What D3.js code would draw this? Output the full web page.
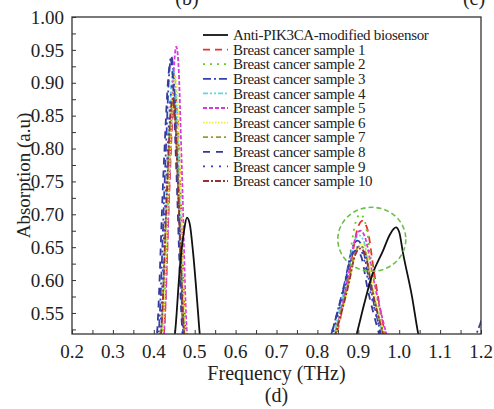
<!DOCTYPE html>
<html>
<head>
<meta charset="utf-8">
<script src="https://cdn.jsdelivr.net/npm/d3@7"></script>
<style>
  body { margin: 0; background: #fff; }
</style>
</head>
<body>
<svg id="chart"></svg>
<script>
// series names (legend order)
const seriesNames = [
  'Anti-PIK3CA-modified biosensor',
  'Breast cancer sample 1', 'Breast cancer sample 2', 'Breast cancer sample 3',
  'Breast cancer sample 4', 'Breast cancer sample 5', 'Breast cancer sample 6',
  'Breast cancer sample 7', 'Breast cancer sample 8', 'Breast cancer sample 9',
  'Breast cancer sample 10'
];

// [frequency THz, absorption]
const biosensor = [[0.44,0.48],[0.452,0.52],[0.464,0.621],[0.474,0.675],[0.481,0.695],[0.488,0.685],[0.496,0.642],[0.508,0.552],[0.512,0.52],[0.52,0.48],
  [0.88,0.48],[0.897,0.52],[0.915,0.565],[0.933,0.606],[0.96,0.644],[0.978,0.670],[0.992,0.68],[1.0,0.673],[1.009,0.642],[1.031,0.576],[1.046,0.52],[1.06,0.48]];
const sample1 = [[0.415,0.48],[0.425,0.52],[0.438,0.736],[0.447,0.86],[0.452,0.88],[0.457,0.86],[0.465,0.736],[0.478,0.52],[0.488,0.48],
  [0.828,0.48],[0.848,0.52],[0.879,0.614],[0.898,0.678],[0.910,0.69],[0.922,0.678],[0.938,0.614],[0.965,0.52],[0.985,0.48]];
const sample2 = [[0.412,0.48],[0.422,0.52],[0.436,0.736],[0.445,0.86],[0.450,0.88],[0.455,0.86],[0.463,0.736],[0.476,0.52],[0.486,0.48],
  [0.825,0.48],[0.845,0.52],[0.875,0.619],[0.893,0.687],[0.905,0.70],[0.917,0.687],[0.934,0.619],[0.962,0.52],[0.982,0.48]];
const sample3 = [[0.402,0.48],[0.412,0.52],[0.428,0.772],[0.438,0.917],[0.443,0.94],[0.448,0.917],[0.458,0.772],[0.472,0.52],[0.482,0.48],
  [0.815,0.48],[0.835,0.52],[0.867,0.597],[0.886,0.65],[0.898,0.66],[0.910,0.65],[0.927,0.597],[0.955,0.52],[0.975,0.48],
  [1.17,0.48],[1.19,0.52],[1.2,0.537],[1.21,0.56]];
const sample4 = [[0.408,0.48],[0.418,0.52],[0.433,0.76],[0.443,0.898],[0.448,0.92],[0.453,0.898],[0.462,0.76],[0.475,0.52],[0.485,0.48],
  [0.820,0.48],[0.840,0.52],[0.871,0.601],[0.890,0.658],[0.902,0.668],[0.914,0.658],[0.930,0.601],[0.958,0.52],[0.978,0.48]];
const sample5 = [[0.415,0.48],[0.425,0.52],[0.440,0.781],[0.450,0.931],[0.455,0.955],[0.460,0.931],[0.468,0.781],[0.481,0.52],[0.491,0.48],
  [0.825,0.48],[0.845,0.52],[0.875,0.605],[0.893,0.664],[0.905,0.675],[0.917,0.664],[0.936,0.605],[0.968,0.52],[0.988,0.48]];
const sample6 = [[0.412,0.48],[0.422,0.52],[0.437,0.754],[0.447,0.889],[0.452,0.91],[0.457,0.889],[0.465,0.754],[0.478,0.52],[0.488,0.48],
  [0.826,0.48],[0.846,0.52],[0.877,0.594],[0.896,0.646],[0.908,0.655],[0.920,0.646],[0.935,0.594],[0.962,0.52],[0.982,0.48]];
const sample7 = [[0.408,0.48],[0.418,0.52],[0.432,0.73],[0.442,0.851],[0.447,0.87],[0.452,0.851],[0.460,0.73],[0.474,0.52],[0.484,0.48],
  [0.823,0.48],[0.843,0.52],[0.874,0.593],[0.893,0.643],[0.905,0.652],[0.917,0.643],[0.932,0.593],[0.960,0.52],[0.980,0.48]];
const sample8 = [[0.398,0.48],[0.408,0.52],[0.424,0.769],[0.436,0.912],[0.441,0.935],[0.446,0.912],[0.455,0.769],[0.470,0.52],[0.480,0.48],
  [0.815,0.48],[0.835,0.52],[0.865,0.589],[0.883,0.636],[0.895,0.645],[0.907,0.636],[0.922,0.589],[0.950,0.52],[0.970,0.48]];
const sample9 = [[0.405,0.48],[0.415,0.52],[0.430,0.748],[0.441,0.879],[0.446,0.90],[0.451,0.879],[0.459,0.748],[0.473,0.52],[0.483,0.48],
  [0.818,0.48],[0.838,0.52],[0.868,0.592],[0.886,0.641],[0.898,0.65],[0.910,0.641],[0.926,0.592],[0.955,0.52],[0.975,0.48]];
const sample10 = [[0.408,0.48],[0.418,0.52],[0.432,0.733],[0.441,0.855],[0.446,0.875],[0.451,0.855],[0.460,0.733],[0.474,0.52],[0.484,0.48],
  [0.825,0.48],[0.845,0.52],[0.875,0.590],[0.893,0.639],[0.905,0.648],[0.917,0.639],[0.932,0.590],[0.960,0.52],[0.980,0.48]];

const seriesValues = [biosensor, sample1, sample2, sample3, sample4, sample5,
  sample6, sample7, sample8, sample9, sample10];

const xTickLabels = [0.2, 0.3, 0.4, 0.5, 0.6, 0.7, 0.8, 0.9, 1.0, 1.1, 1.2];
const yTickLabels = [0.55, 0.60, 0.65, 0.70, 0.75, 0.80, 0.85, 0.90, 0.95, 1.00];

// highlighted region (dashed circle) centre
const highlight = [0.933, 0.662];

const colors = ['#111111', '#e8322e', '#66cc22', '#3a3fae', '#5fd8e0', '#d83ad8',
  '#eeee3a', '#9c9a2e', '#343a9a', '#3c3cc8', '#963232'];
const dashes = ['none', '7,5', '2,5', '8,3,2,3', '5,2,2,2,2,2', '4,2',
  '1.5,1.5', '5,3,2,3', '7,6', '2,6', '6,2,2,2'];

const serif = "'Liberation Serif', 'DejaVu Serif', Tinos, 'Noto Serif', 'Nimbus Roman', FreeSerif, Times, serif";

const margin = {top: 17, right: 13, bottom: 75, left: 72};
const W = 494, H = 409;
const width = W - margin.left - margin.right;
const height = H - margin.top - margin.bottom;

const svg = d3.select('#chart').attr('width', W).attr('height', H)
  .style('display', 'block')
  .style('font-family', serif);
const g = svg.append('g').attr('transform', `translate(${margin.left},${margin.top})`);

const x = d3.scaleLinear().domain([0.2, 1.2]).range([0, width]);
const y = d3.scaleLinear().domain([0.518, 1.0]).range([height, 0]);

g.append('defs').append('clipPath').attr('id', 'clip')
  .append('rect').attr('width', width).attr('height', height);

const line = d3.line()
  .x(d => x(d[0]))
  .y(d => y(d[1]))
  .curve(d3.curveMonotoneX);

const plot = g.append('g').attr('clip-path', 'url(#clip)');

// draw samples first, biosensor on top
d3.range(1, seriesValues.length).concat([0]).forEach(i => {
  plot.append('path')
    .datum(seriesValues[i])
    .attr('fill', 'none')
    .attr('stroke', colors[i])
    .attr('stroke-width', 1.8)
    .attr('stroke-dasharray', dashes[i])
    .attr('d', line);
});

// dashed highlight circle
g.append('ellipse')
  .attr('cx', x(highlight[0]))
  .attr('cy', y(highlight[1]))
  .attr('rx', 34)
  .attr('ry', 32)
  .attr('fill', 'none')
  .attr('stroke', '#6cbf4a')
  .attr('stroke-width', 1.6)
  .attr('stroke-dasharray', '5,3');

// axes (ticks inward)
const axisColor = '#333';
const xAxis = d3.axisBottom(x).tickValues(d3.range(0.2, 1.2001, 0.05)).tickSize(-4).tickFormat('');
const yAxis = d3.axisLeft(y).tickValues(d3.range(0.525, 1.0001, 0.025)).tickSize(-4).tickFormat('');

const xg = g.append('g').attr('transform', `translate(0,${height})`).call(xAxis);
const yg = g.append('g').call(yAxis);
[xg, yg].forEach(a => {
  a.select('.domain').remove();
  a.selectAll('line').attr('stroke', axisColor);
});

g.append('rect')
  .attr('width', width).attr('height', height)
  .attr('fill', 'none').attr('stroke', axisColor).attr('stroke-width', 1.3);

// tick labels
g.selectAll('.xlab').data(xTickLabels).join('text')
  .attr('x', d => x(d)).attr('y', height + 24)
  .attr('text-anchor', 'middle')
  .attr('font-size', 19).attr('fill', '#222')
  .text(d => d3.format('.1f')(d));

g.selectAll('.ylab').data(yTickLabels).join('text')
  .attr('x', -8).attr('y', d => y(d)).attr('dy', '0.35em')
  .attr('text-anchor', 'end')
  .attr('font-size', 19).attr('fill', '#222')
  .text(d => d3.format('.2f')(d));

// axis titles
g.append('text')
  .attr('x', width / 2).attr('y', height + 46)
  .attr('text-anchor', 'middle')
  .attr('font-size', 20).attr('fill', '#222')
  .text('Frequency (THz)');

g.append('text')
  .attr('x', width / 2).attr('y', height + 68)
  .attr('text-anchor', 'middle')
  .attr('font-size', 20).attr('fill', '#222')
  .text('(d)');

g.append('text')
  .attr('transform', `translate(${-margin.left + 30},${height / 2}) rotate(-90)`)
  .attr('text-anchor', 'middle')
  .attr('font-size', 19).attr('fill', '#222')
  .text('Absorption (a.u)');

// panel letters cut off at top
svg.append('text').attr('x', 187).attr('y', 5).attr('text-anchor', 'middle')
  .attr('font-size', 20).attr('fill', '#222').text('(b)');
svg.append('text').attr('x', 474).attr('y', 5).attr('text-anchor', 'middle')
  .attr('font-size', 20).attr('fill', '#222').text('(c)');

// legend
const legend = g.append('g').attr('transform', 'translate(131,18)');
seriesNames.forEach((name, i) => {
  const row = legend.append('g').attr('transform', `translate(0,${i * 14.6})`);
  row.append('line')
    .attr('x1', 0).attr('x2', 25)
    .attr('stroke', colors[i]).attr('stroke-width', 1.8)
    .attr('stroke-dasharray', dashes[i]);
  row.append('text')
    .attr('x', 30).attr('dy', '0.35em')
    .attr('font-size', 15).attr('letter-spacing', -0.3).attr('fill', '#222')
    .text(name);
});
</script>
</body>
</html>
